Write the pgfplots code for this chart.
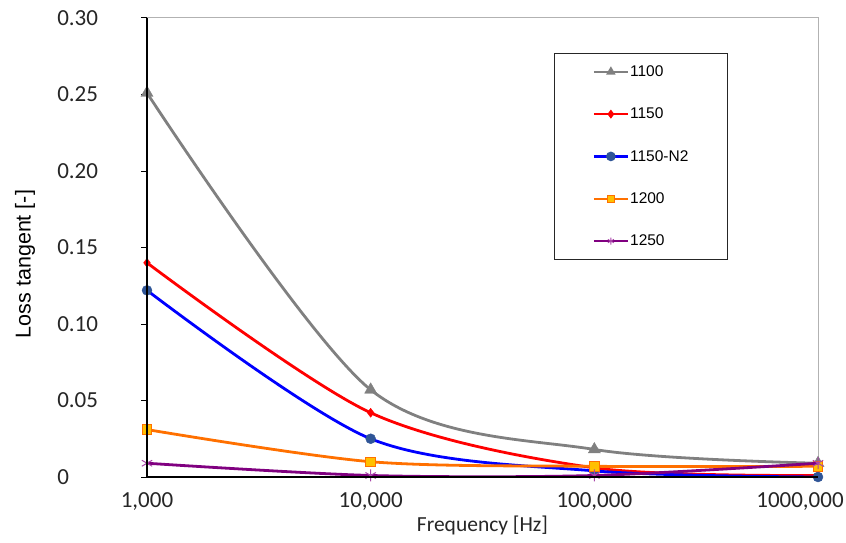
\documentclass[border=0pt]{standalone}
\usepackage{fontspec}
\setmainfont{Carlito}
\newfontfamily\legfont{Liberation Sans}
\usepackage{pgfplots}
\pgfplotsset{compat=1.18}
\definecolor{cgray}{RGB}{128,128,128}
\definecolor{cred}{RGB}{255,0,0}
\definecolor{cblue}{RGB}{0,0,255}
\definecolor{cbluem}{RGB}{47,85,151}
\definecolor{corange}{RGB}{255,112,0}
\definecolor{cyellow}{RGB}{255,192,0}
\definecolor{cpurple}{RGB}{128,0,128}
\definecolor{cpurplem}{RGB}{170,70,170}
\begin{document}
\begin{tikzpicture}[x=1pt,y=1pt]
\path[use as bounding box] (0,0) rectangle (846,542);
\begin{axis}[at={(147pt,65pt)}, anchor=south west, scale only axis,
  width=671pt, height=459pt,
  xmode=log, xmin=1000, xmax=1000000, ymin=0, ymax=0.30,
  xtick={1000,10000,100000,1000000},
  xticklabels={{1,000},{10,000},{100,000},{\hspace*{-36pt}1000,000}},
  ytick={0,0.05,0.10,0.15,0.20,0.25,0.30},
  yticklabels={0,0.05,0.10,0.15,0.20,0.25,0.30},
  ytick pos=left,
  xminorticks=false, yminorticks=false,
  tick align=outside, major tick length=6pt,
  xtick style={draw=none},
  ytick style={black, line width=1pt},
  axis line style={draw=black!30, line width=1pt},
  /pgf/number format/assume math mode=true,
  tick label style={font=\fontsize{23}{26}\selectfont, text=black!85},
  yticklabel style={anchor=west, inner sep=0pt, xshift=-84pt},
  xticklabel style={yshift=-6pt},
  xlabel={Frequency [Hz]}, ylabel={Loss tangent [-]},
  xlabel style={at={(axis description cs:0.5,-0.1046)}, anchor=center, font=\fontsize{21.5}{24}\selectfont, text=black!85},
  ylabel style={at={(axis description cs:-0.1818,0.464)}, anchor=center, font=\legfont\fontsize{21.5}{24}\selectfont},
  clip mode=individual,
  legend cell align=left,
  legend style={at={(0.6066,0.9237)}, anchor=north west, draw=black!85, line width=1.2pt,
    inner xsep=38pt, inner ysep=11pt, row sep=28pt,
    font=\legfont\fontsize{15.5}{17}\selectfont, nodes={inner sep=1pt}},
  legend image code/.code={\draw[mark repeat=2,mark phase=2,#1] plot coordinates {(0pt,0pt) (17pt,0pt) (34pt,0pt)};},
  after end axis/.code={\draw[black, line width=1.2pt] (rel axis cs:0,1) -- (rel axis cs:0,0) -- (rel axis cs:1,0);}
]
\addplot[forget plot, cgray, line width=2.8pt, smooth, tension=0.5, mark=triangle*, mark size=7pt,
  mark options={solid, fill=cgray, draw=cgray, line width=0.4pt}]
  coordinates {(1000,0.251) (10000,0.057) (100000,0.018) (1000000,0.009)};
\addplot[forget plot, cred, line width=2.8pt, smooth, tension=0.5, mark=diamond*, mark size=4.5pt,
  mark options={solid, fill=cred, draw=cred, line width=0.4pt}]
  coordinates {(1000,0.140) (10000,0.042) (100000,0.006) (1000000,0.001)};
\addplot[forget plot, cblue, line width=2.8pt, smooth, tension=0.5, mark=*, mark size=5pt,
  mark options={solid, fill=cbluem, draw=cbluem, line width=0.4pt}]
  coordinates {(1000,0.122) (10000,0.025) (100000,0.004) (1000000,0.000)};
\addplot[forget plot, corange, line width=2.8pt, smooth, tension=0.5, mark=square*, mark size=4.8pt,
  mark options={solid, fill=cyellow, draw=corange, line width=0.8pt}]
  coordinates {(1000,0.031) (10000,0.010) (100000,0.007) (1000000,0.007)};
\addplot[forget plot, cpurple, line width=2.8pt, smooth, tension=0.5, mark=asterisk, mark size=6pt,
  mark options={solid, draw=cpurplem, line width=1pt}]
  coordinates {(1000,0.009) (10000,0.001) (100000,0.001) (1000000,0.009)};
\addlegendimage{cgray, line width=2.5pt, mark=triangle*, mark size=3pt, mark options={fill=cgray}}
\addlegendentry{1100}
\addlegendimage{cred, line width=2.5pt, mark=diamond*, mark size=2.5pt, mark options={fill=cred}}
\addlegendentry{1150}
\addlegendimage{cblue, line width=2.5pt, mark=*, mark size=3.5pt, mark options={fill=cbluem, draw=cbluem}}
\addlegendentry{1150-N2}
\addlegendimage{corange, line width=2.5pt, mark=square*, mark size=3.2pt, mark options={fill=cyellow, draw=corange, line width=0.6pt}}
\addlegendentry{1200}
\addlegendimage{cpurple, line width=2.5pt, mark=asterisk, mark size=3.5pt, mark options={draw=cpurplem, line width=0.8pt}}
\addlegendentry{1250}
\end{axis}
\end{tikzpicture}
\end{document}
